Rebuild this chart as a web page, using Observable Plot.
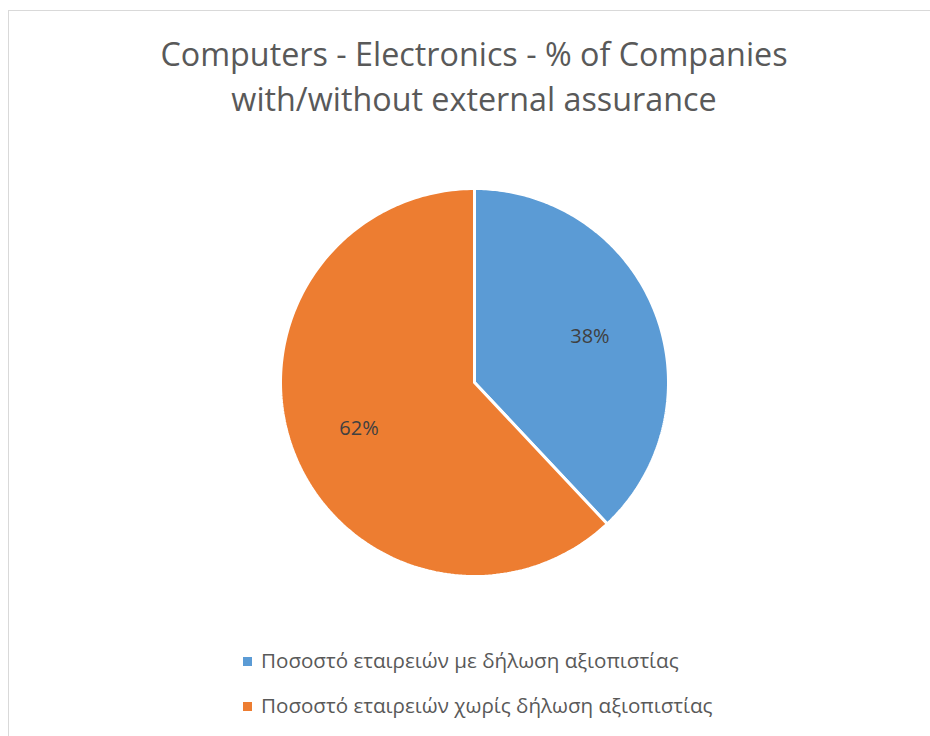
<!DOCTYPE html>
<html><head><meta charset="utf-8">
<script src="https://cdn.jsdelivr.net/npm/d3@7"></script>
<script src="https://cdn.jsdelivr.net/npm/@observablehq/plot@0.6"></script>
<style>
body{margin:0;background:#fff;font-family:"Open Sans",sans-serif;width:930px;height:736px;overflow:hidden;position:relative}
#frame{position:absolute;left:8px;top:10px;width:940px;height:760px;border:1px solid #d9d9d9;box-sizing:border-box}
.tline{position:absolute;left:8px;width:932px;text-align:center;color:#595959;font-size:32.3px;line-height:44px;white-space:nowrap}
#chart{position:absolute;left:8px;top:150px;width:932px;height:470px}
#chart svg{max-width:none}
.leg{position:absolute;left:243px;font-size:20.6px;line-height:26px;color:#595959;white-space:nowrap}
.sw{display:inline-block;width:9px;height:9px;margin-right:9px;vertical-align:2px}
</style></head>
<body>
<div id="frame"></div>
<div class="tline" id="t1" style="top:31px"></div>
<div class="tline" id="t2" style="top:76px"></div>
<div id="chart"></div>
<div class="leg" id="l1" style="top:647px"></div>
<div class="leg" id="l2" style="top:692px"></div>
<script>
const titleLines = ["Computers - Electronics - % of Companies", "with/without external assurance"];
const categories = ["Ποσοστό εταιρειών με δήλωση αξιοπιστίας", "Ποσοστό εταιρειών χωρίς δήλωση αξιοπιστίας"];
const values = [38, 62];
const colors = ["#5B9BD5", "#ED7D31"];

document.getElementById("t1").textContent = titleLines[0];
document.getElementById("t2").textContent = titleLines[1];
["l1","l2"].forEach((id, i) => {
  const el = document.getElementById(id);
  const sw = document.createElement("span");
  sw.className = "sw"; sw.style.background = colors[i];
  el.appendChild(sw);
  el.appendChild(document.createTextNode(categories[i]));
});

const W = 932, H = 470, R = 194, CY = 232;
const arcs = d3.pie().sort(null).value(d => d)(values);
const pts = [];
arcs.forEach((a, i) => {
  const n = 200;
  pts.push({cat: categories[i], x: 0, y: 0});
  for (let k = 0; k <= n; k++) {
    const t = a.startAngle + (a.endAngle - a.startAngle) * k / n;
    pts.push({cat: categories[i], x: R * Math.sin(t), y: R * Math.cos(t)});
  }
  pts.push({cat: categories[i], x: 0, y: 0});
});
const labels = arcs.map((a, i) => {
  const m = (a.startAngle + a.endAngle) / 2;
  const r = 0.64 * R;
  return {x: r * Math.sin(m), y: r * Math.cos(m), text: values[i] + "%"};
});

const plot = Plot.plot({
  width: W, height: H,
  margin: 0,
  x: {domain: [-W / 2, W / 2], axis: null},
  y: {domain: [-(H - CY), CY], axis: null},
  color: {domain: categories, range: colors},
  marks: [
    Plot.line(pts, {x: "x", y: "y", z: "cat", fill: "cat", stroke: "white", strokeWidth: 3, strokeLinejoin: "miter", curve: "linear"}),
    Plot.text(labels, {x: "x", y: "y", text: "text", fill: "#404040", fontSize: 20, fontFamily: "Open Sans"})
  ]
});
document.getElementById("chart").appendChild(plot);
</script>
</body></html>
